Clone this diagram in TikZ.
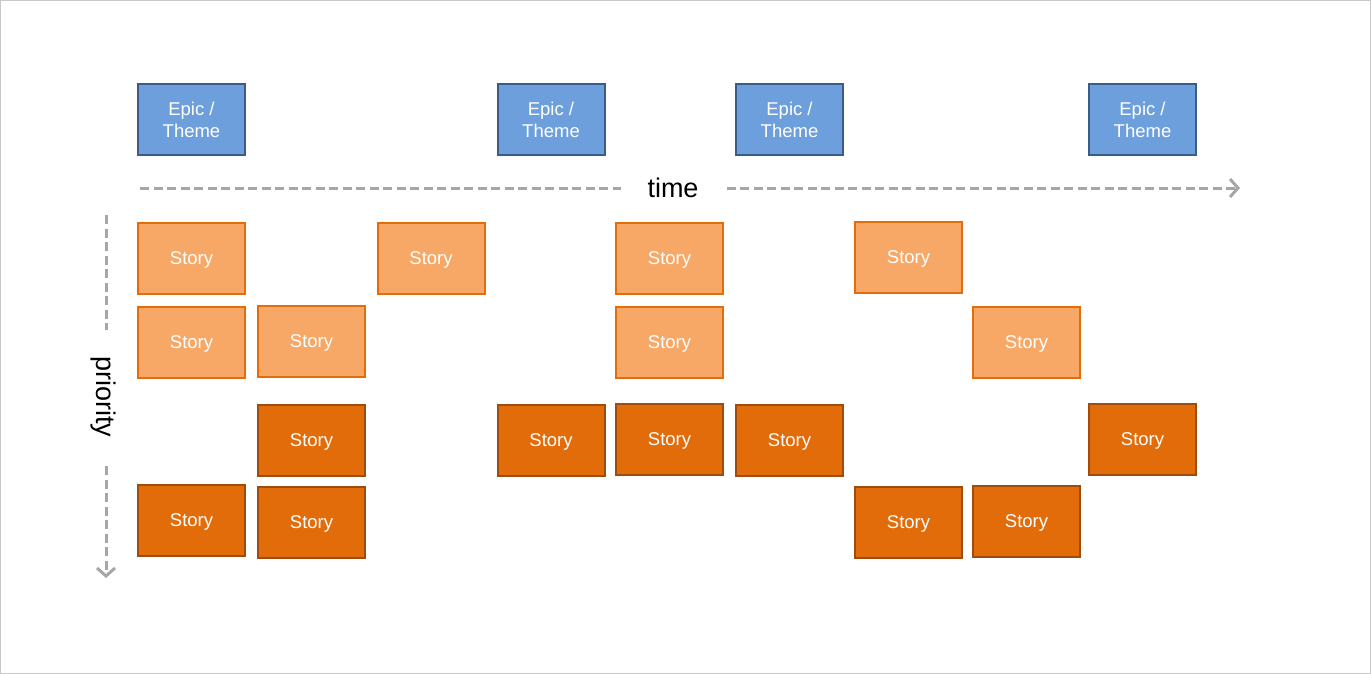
\documentclass[tikz,border=0pt]{standalone}
\usepackage{fontspec}
\setmainfont{Liberation Sans}
\usetikzlibrary{arrows.meta}
\definecolor{epicfill}{RGB}{108,159,219}
\definecolor{epicdraw}{RGB}{58,92,138}
\definecolor{lightfill}{RGB}{247,168,102}
\definecolor{lightdraw}{RGB}{228,108,10}
\definecolor{darkfill}{RGB}{227,108,10}
\definecolor{darkdraw}{RGB}{160,76,12}
\definecolor{dashgray}{RGB}{166,166,166}
\definecolor{framegray}{RGB}{200,200,200}
\begin{document}
\begin{tikzpicture}[x=1pt,y=-1pt,
  box/.style={rectangle, minimum width=107pt, minimum height=71pt, line width=2pt, inner sep=0pt,
    text=white, font=\fontsize{18.5}{22}\selectfont, align=center},
  epic/.style={box, fill=epicfill, draw=epicdraw},
  lstory/.style={box, fill=lightfill, draw=lightdraw, text depth=0pt},
  dstory/.style={box, fill=darkfill, draw=darkdraw, text depth=0pt},
  axis/.style={draw=dashgray, line width=3pt, dash pattern=on 9pt off 4.5pt},
  axistip/.style={-{Straight Barb[length=8pt,width=18pt,line width=3pt]}},
  axislabel/.style={font=\fontsize{27}{30}\selectfont, inner sep=0pt}]
\useasboundingbox (0,0) rectangle (1371,674);
\draw[framegray, line width=1pt] (0.5,0.5) rectangle (1370.5,673.5);
% epics
\node[epic] (e1) at (191.5,119.5) {Epic /\\Theme};
\node[epic] (e2) at (551,119.5) {Epic /\\Theme};
\node[epic] (e3) at (789.5,119.5) {Epic /\\Theme};
\node[epic] (e4) at (1142.5,119.5) {Epic /\\Theme};
% time axis
\coordinate (t0) at (140,188);
\coordinate (t1) at (1240,188);
\node[axislabel] (time) at (673,188) {time};
\draw[axis] (t0) -- ([xshift=-26pt]time.west);
\draw[axis, axistip] ([xshift=28pt]time.east) -- (t1);
% priority axis
\coordinate (p0) at (106,215);
\coordinate (p1) at (106,578);
\node[axislabel, rotate=-90] (prio) at (103,397) {priority};
\draw[axis] (p0) -- (106,330);
\draw[axis, axistip] (106,466) -- (p1);
% row 1
\node[lstory] (s11) at (191.5,258) {Story};
\node[lstory] (s12) at (431,258) {Story};
\node[lstory] (s13) at (669.5,258) {Story};
\node[lstory] (s14) at (908.5,257) {Story};
% row 2
\node[lstory] (s21) at (191.5,342) {Story};
\node[lstory] (s22) at (311.5,341) {Story};
\node[lstory] (s23) at (669.5,342) {Story};
\node[lstory] (s24) at (1026.5,342) {Story};
% row 3
\node[dstory] (s31) at (311.5,440) {Story};
\node[dstory] (s32) at (551,440) {Story};
\node[dstory] (s33) at (669.5,439) {Story};
\node[dstory] (s34) at (789.5,440) {Story};
\node[dstory] (s35) at (1142.5,439) {Story};
% row 4
\node[dstory] (s41) at (191.5,520) {Story};
\node[dstory] (s42) at (311.5,522) {Story};
\node[dstory] (s43) at (908.5,522) {Story};
\node[dstory] (s44) at (1026.5,521) {Story};
\end{tikzpicture}
\end{document}
